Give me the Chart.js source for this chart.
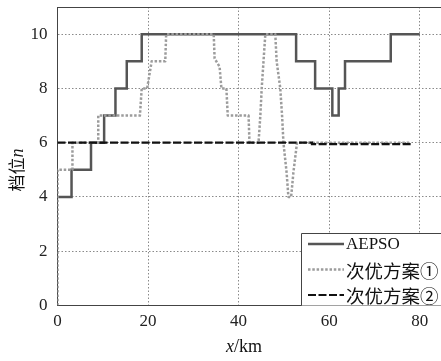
<!DOCTYPE html>
<html>
<head>
<meta charset="utf-8">
<script src="https://cdn.jsdelivr.net/npm/chart.js@4"></script>
<style>
  html, body { margin: 0; padding: 0; background: #fff; }
  #wrap { width: 441px; height: 361px; position: relative; }
</style>
</head>
<body>
<div id="wrap"><canvas id="gearChart"></canvas></div>
<script>
// distance (km) / gear values
const seriesNames = ['AEPSO', '次优方案①', '次优方案②'];

const aepsoX = [0, 3.1, 7.4, 10.3, 12.8, 15.3, 18.6, 52.7, 56.9, 60.7, 62.1, 63.5, 73.6, 80];
const aepsoY = [4, 5, 6, 7, 8, 9, 10, 9, 8, 7, 8, 9, 10, 10];

const plan1X = [0, 0, 3.3, 3.3, 9, 9, 18.2, 18.6, 19.8, 20.8, 23.8, 24, 34.5, 34.7, 35.8, 36.2, 37.3, 37.6,
                42.2, 42.4, 44.4, 44.8, 45.1, 45.9, 48.1, 48.4, 49.2, 49.6, 49.9, 50.6, 51.0, 51.6, 52.1, 52.9, 78];
const plan1Y = [0, 5, 5, 6, 6, 7, 7, 8, 8, 9, 9, 10, 10, 9.1, 8.8, 8, 8, 7,
                7, 6, 6, 7, 8, 10, 10, 9, 8, 7, 6, 4.9, 4, 4, 4.9, 6, 6];

const plan2X = [0, 56.2, 78];
const plan2Y = [6, 5.95, 5.95];

const xTicks = [0, 20, 40, 60, 80];
const yTicks = [0, 2, 4, 6, 8, 10];

const pts = (xs, ys) => xs.map((x, i) => ({ x: x, y: ys[i] }));

const serif = '"Liberation Serif", "Times New Roman", serif';
const cjk = '"Noto Sans CJK SC", sans-serif';

const extras = {
    id: 'extras',
    afterDraw(chart) {
        const ctx = chart.ctx;
        const a = chart.chartArea;
        ctx.save();
        // top frame
        ctx.strokeStyle = '#444';
        ctx.lineWidth = 1;
        ctx.beginPath();
        ctx.moveTo(a.left, a.top + 0.5);
        ctx.lineTo(a.right, a.top + 0.5);
        ctx.stroke();

        // legend box
        const lx = 301.5, ly = 233.5;
        ctx.fillStyle = '#fff';
        ctx.fillRect(lx, ly, a.right - lx, a.bottom - ly);
        ctx.beginPath();
        ctx.moveTo(a.right, ly);
        ctx.lineTo(lx, ly);
        ctx.lineTo(lx, a.bottom);
        ctx.stroke();
        chart.data.datasets.forEach((ds, i) => {
            const y = 244 + i * 25.5;
            ctx.save();
            ctx.strokeStyle = ds.borderColor;
            ctx.lineWidth = ds.borderWidth;
            ctx.setLineDash(ds.borderDash || []);
            ctx.beginPath();
            ctx.moveTo(308, y);
            ctx.lineTo(344, y);
            ctx.stroke();
            ctx.restore();
            ctx.fillStyle = '#111';
            ctx.textBaseline = 'middle';
            ctx.textAlign = 'left';
            ctx.font = i === 0 ? '17px ' + serif : '18.5px ' + cjk;
            ctx.fillText(ds.label, 346, y + 1);
        });

        // x title: x/km
        ctx.fillStyle = '#111';
        ctx.textBaseline = 'middle';
        ctx.textAlign = 'left';
        ctx.font = 'italic 18px ' + serif;
        const wx = ctx.measureText('x').width;
        ctx.font = '18px ' + serif;
        const wk = ctx.measureText('/km').width;
        let sx = 244 - (wx + wk) / 2;
        ctx.font = 'italic 18px ' + serif;
        ctx.fillText('x', sx, 347);
        ctx.font = '18px ' + serif;
        ctx.fillText('/km', sx + wx, 347);

        // y title: 档位n
        ctx.translate(17, 170);
        ctx.rotate(-Math.PI / 2);
        ctx.font = '17px ' + cjk;
        const wc = ctx.measureText('档位').width;
        ctx.font = 'italic 18px ' + serif;
        const wn = ctx.measureText('n').width;
        sx = -(wc + wn) / 2;
        ctx.font = '17px ' + cjk;
        ctx.fillText('档位', sx, 0);
        ctx.font = 'italic 18px ' + serif;
        ctx.fillText('n', sx + wc, 1);
        ctx.restore();
    }
};

new Chart(document.getElementById('gearChart'), {
    type: 'line',
    data: {
        datasets: [
            {
                label: seriesNames[0],
                data: pts(aepsoX, aepsoY),
                stepped: 'before',
                borderColor: '#555555',
                borderWidth: 2.5,
                order: 3
            },
            {
                label: seriesNames[1],
                data: pts(plan1X, plan1Y),
                borderColor: '#9c9c9c',
                borderWidth: 2.5,
                borderDash: [2.5, 1.8],
                borderJoinStyle: 'round',
                order: 2
            },
            {
                label: seriesNames[2],
                data: pts(plan2X, plan2Y),
                stepped: 'before',
                borderColor: '#111111',
                borderWidth: 2.2,
                borderDash: [8, 2.5],
                order: 1
            }
        ]
    },
    options: {
        responsive: true,
        maintainAspectRatio: false,
        animation: false,
        layout: { padding: { top: 7, right: 0, left: 0, bottom: 0 } },
        elements: { point: { radius: 0 }, line: { tension: 0, borderCapStyle: 'butt' } },
        plugins: { legend: { display: false }, tooltip: { enabled: false } },
        scales: {
            x: {
                type: 'linear',
                min: 0,
                max: 84.7,
                afterFit: s => { s.height = 55.5; s.paddingLeft = 0; s.paddingRight = 0; },
                afterBuildTicks: s => { s.ticks = xTicks.map(v => ({ value: v })); },
                ticks: { font: { family: serif, size: 17 }, color: '#222', padding: 6 },
                grid: { color: '#8a8a8a', lineWidth: 1, drawTicks: false },
                border: { color: '#444', width: 1, dash: [1.5, 2] }
            },
            y: {
                min: 0,
                max: 11,
                afterFit: s => { s.width = 57.5; s.paddingTop = 0; s.paddingBottom = 0; },
                afterBuildTicks: s => { s.ticks = yTicks.map(v => ({ value: v })); },
                ticks: { font: { family: serif, size: 17 }, color: '#222', padding: 10 },
                grid: { color: '#8a8a8a', lineWidth: 1, drawTicks: false },
                border: { color: '#444', width: 1, dash: [1.5, 2] }
            }
        }
    },
    plugins: [extras]
});
</script>
</body>
</html>
